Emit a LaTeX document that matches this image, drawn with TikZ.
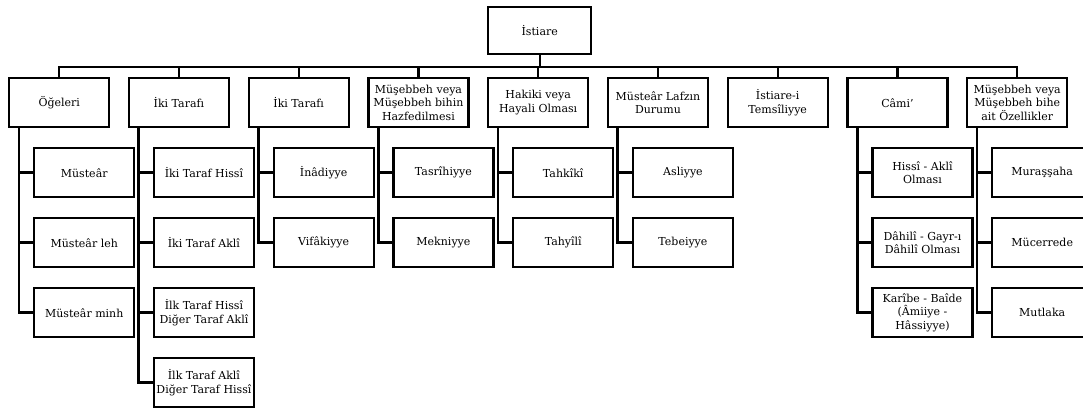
\documentclass[tikz,border=0pt]{standalone}
\usepackage{fontspec}
\setmainfont{DejaVu Serif}
\begin{document}
\begin{tikzpicture}[x=1pt,y=-1pt,
  box/.style={draw, line width=2.4pt, fill=white, minimum width=100pt,
    minimum height=49pt, inner sep=1pt, align=center, anchor=north west,
    font=\fontsize{11}{13.4}\selectfont},
  link/.style={line width=2.3pt},
  branch/.style={link, line width=2.8pt}]
\useasboundingbox (0,0) rectangle (1083,411);

% root
\node[box, minimum width=103pt, minimum height=47pt] (root) at (487,6) {İstiare};
\coordinate (bus) at (0,67);

% first level
\node[box] (a1) at (8,77)      {Öğeleri};
\node[box] (a2) at (127.75,77) {İki Tarafı};
\node[box] (a3) at (247.5,77)  {İki Tarafı};
\node[box] (a4) at (367.25,77) {Müşebbeh veya\\Müşebbeh bihin\\Hazfedilmesi};
\node[box] (a5) at (487,77)    {Hakiki veya\\Hayali Olması};
\node[box] (a6) at (606.75,77) {Müsteâr Lafzın\\Durumu};
\node[box] (a7) at (726.5,77)  {İstiare-i\\Temsîliyye};
\node[box] (a8) at (846.25,77) {Câmi'};
\node[box] (a9) at (966,77)    {Müşebbeh veya\\Müşebbeh bihe\\ait Özellikler};

% second level
\node[box] (a1c1) at (33,147)  {Müsteâr};
\node[box] (a1c2) at (33,217)  {Müsteâr leh};
\node[box] (a1c3) at (33,287)  {Müsteâr minh};

\node[box] (a2c1) at (152.75,147) {İki Taraf Hissî};
\node[box] (a2c2) at (152.75,217) {İki Taraf Aklî};
\node[box] (a2c3) at (152.75,287) {İlk Taraf Hissî\\Diğer Taraf Aklî};
\node[box] (a2c4) at (152.75,357) {İlk Taraf Aklî\\Diğer Taraf Hissî};

\node[box] (a3c1) at (272.5,147) {İnâdiyye};
\node[box] (a3c2) at (272.5,217) {Vifâkiyye};

\node[box] (a4c1) at (392.25,147) {Tasrîhiyye};
\node[box] (a4c2) at (392.25,217) {Mekniyye};

\node[box] (a5c1) at (512,147) {Tahkîkî};
\node[box] (a5c2) at (512,217) {Tahyîlî};

\node[box] (a6c1) at (631.75,147) {Asliyye};
\node[box] (a6c2) at (631.75,217) {Tebeiyye};

\node[box] (a8c1) at (871.25,147) {Hissî - Aklî\\Olması};
\node[box] (a8c2) at (871.25,217) {Dâhilî - Gayr-ı\\Dâhilî Olması};
\node[box] (a8c3) at (871.25,287) {Karîbe - Baîde\\(Âmiiye -\\Hâssiyye)};

\node[box] (a9c1) at (991,147) {Muraşşaha};
\node[box] (a9c2) at (991,217) {Mücerrede};
\node[box] (a9c3) at (991,287) {Mutlaka};

% root to first level
\foreach \n in {a1,a2,a3,a4,a5,a6,a7,a8,a9}
  \draw[link] (root.south) -- (root.south |- bus) -| (\n.north);

% first level to second level
\foreach \p/\cs in {a1/{a1c1,a1c2,a1c3},
                    a2/{a2c1,a2c2,a2c3,a2c4},
                    a3/{a3c1,a3c2},
                    a4/{a4c1,a4c2},
                    a5/{a5c1,a5c2},
                    a6/{a6c1,a6c2},
                    a8/{a8c1,a8c2,a8c3},
                    a9/{a9c1,a9c2,a9c3}}
  \foreach \c in \cs
    \draw[branch] ([xshift=11pt]\p.south west) |- (\c.west);
\end{tikzpicture}
\end{document}
